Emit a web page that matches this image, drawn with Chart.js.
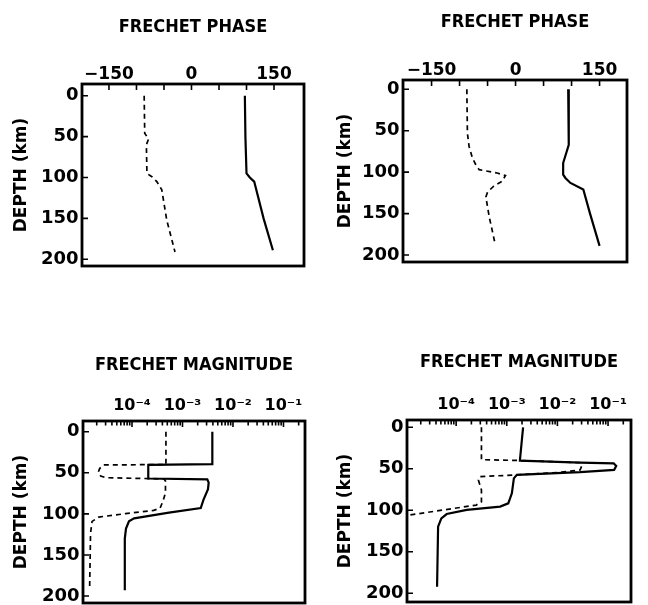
<!DOCTYPE html>
<html>
<head>
<meta charset="utf-8">
<script src="https://cdn.jsdelivr.net/npm/chart.js@4.4.1/dist/chart.umd.min.js"></script>
<style>
html,body{margin:0;padding:0;background:#fff;overflow:hidden;width:648px;height:605px}
canvas{position:absolute}
</style>
</head>
<body>
<canvas id="c1" width="324" height="300" style="left:0;top:0"></canvas>
<canvas id="c2" width="324" height="300" style="left:324px;top:0"></canvas>
<canvas id="c3" width="324" height="305" style="left:0;top:300px"></canvas>
<canvas id="c4" width="324" height="305" style="left:324px;top:300px"></canvas>
<script>
// ---------- axis ticks / labels ----------
const depthTicks = [0, 50, 100, 150, 200];
const phaseTicks = [-150, -100, -50, 0, 50, 100, 150];
const phaseTickLabels = ['−150', '', '', '0', '', '', '150'];
const magDecades = [1e-5, 1e-4, 1e-3, 1e-2, 1e-1];
const magDecadeLabels = ['', '10⁻⁴', '10⁻³', '10⁻²', '10⁻¹'];
const magMultipliers = [1, 2, 3, 4, 5, 6, 7, 8, 9];

// ---------- panel A: Frechet phase (top left) ----------
const phaseA_solidDepth = [0, 50, 95, 100, 105, 150, 189];
const phaseA_solidValue = [97, 98, 100, 106, 114, 131, 148];
const phaseA_dashDepth  = [0, 46, 53, 60, 95, 99, 105, 115, 152, 191];
const phaseA_dashValue  = [-86, -85, -78, -82, -81, -72, -63, -54, -45, -30];

// ---------- panel B: Frechet phase (top right) ----------
const phaseB_solidDepth = [0, 53, 67, 89, 103, 107, 113, 121, 150, 189];
const phaseB_solidValue = [94, 95, 95, 85, 85, 89, 98, 121, 133, 150];
const phaseB_dashDepth  = [0, 53, 69, 83, 91, 97, 101, 104, 111, 117, 124, 130, 154, 188];
const phaseB_dashValue  = [-87, -86, -83, -77, -71, -65, -33, -18, -24, -39, -50, -53, -47, -36];

// ---------- panel C: Frechet magnitude (bottom left) ----------
const magC_solidDepth = [0, 39.5, 40.5, 57, 58, 62, 70, 83, 93, 98.6, 105.5, 109, 118, 130, 193];
const magC_solidValue = [3.9e-3, 3.9e-3, 2.1e-4, 2.1e-4, 3.1e-3, 3.3e-3, 3.2e-3, 2.6e-3, 2.3e-3, 5.4e-4, 1.1e-4, 8.7e-5, 7.6e-5, 7.2e-5, 7.2e-5];
const magC_dashDepth  = [0, 40, 40.5, 44.6, 49.5, 54, 56, 57.5, 60, 74.5, 84.7, 93, 95.8, 99.8, 103.9, 109.2, 123.4, 188];
const magC_dashValue  = [4.7e-4, 4.7e-4, 2.75e-5, 2.3e-5, 2.14e-5, 2.4e-5, 3.0e-5, 4.3e-4, 4.6e-4, 4.6e-4, 4.1e-4, 3.6e-4, 2.7e-4, 7.4e-5, 2.2e-5, 1.62e-5, 1.51e-5, 1.45e-5];

// ---------- panel D: Frechet magnitude (bottom right) ----------
const magD_solidDepth = [0, 39.4, 40.2, 42.6, 43.4, 46.5, 51.3, 54.1, 57.3, 61.5, 79.5, 91.6, 95.6, 99.6, 104.5, 109.7, 119.7, 192];
const magD_solidValue = [2.1e-3, 1.82e-3, 1.82e-3, 2.8e-2, 0.129, 0.145, 0.132, 2.8e-2, 1.58e-3, 1.38e-3, 1.26e-3, 1.07e-3, 7.4e-4, 1.62e-4, 6.5e-5, 5.1e-5, 4.4e-5, 4.2e-5];
const magD_dashDepth  = [0, 39, 40, 42.6, 47, 51.5, 54.5, 57.3, 59.5, 63.5, 75.6, 89.7, 93.7, 105.7, 107];
const magD_dashValue  = [3.16e-4, 3.16e-4, 1.82e-3, 2.8e-2, 3.0e-2, 2.8e-2, 1.0e-2, 1.58e-3, 2.95e-4, 2.75e-4, 3.16e-4, 3.16e-4, 2.5e-4, 1.2e-5, 1.0e-5];

// ---------- rendering ----------
Chart.defaults.font.family = "'DejaVu Sans', sans-serif";
Chart.defaults.color = '#000';
const titleFamily = "'DejaVu Sans Condensed', 'Liberation Sans', sans-serif";

function isDecade(v) {
  const l = Math.log10(v);
  return Math.abs(l - Math.round(l)) < 1e-6;
}

const framePlugin = {
  id: 'frame',
  afterDraw(chart, args, opts) {
    const {ctx, chartArea: a, scales: {x, y}} = chart;
    ctx.save();
    ctx.strokeStyle = '#000';
    ctx.lineWidth = 1.6;
    ctx.beginPath();
    x.ticks.forEach(t => {
      const px = x.getPixelForValue(t.value);
      if (px <= a.left + 2 || px >= a.right - 2) return;
      const len = opts.log ? (isDecade(t.value) ? 6 : 4.5) : 6;
      ctx.moveTo(px, a.top);
      ctx.lineTo(px, a.top + len);
    });
    y.ticks.forEach(t => {
      const py = y.getPixelForValue(t.value);
      ctx.moveTo(a.left, py);
      ctx.lineTo(a.left + 6, py);
    });
    ctx.stroke();
    ctx.lineWidth = 2.8;
    ctx.strokeRect(a.left, a.top, a.right - a.left, a.bottom - a.top);
    ctx.restore();
  }
};

function pts(xs, ds) { return xs.map((v, i) => ({x: v, y: ds[i]})); }

function makeChart(id, p) {
  const canvas = document.getElementById(id);
  const xScale = p.log ? {
    type: 'logarithmic',
    position: 'top',
    min: p.xMin, max: p.xMax,
    bounds: 'data',
    afterBuildTicks(s) {
      const list = [];
      magDecades.forEach(dec => magMultipliers.forEach(m => {
        const v = dec * m;
        if (v > s.min && v < s.max) list.push({value: v, major: m === 1});
      }));
      s.ticks = list;
    },
    ticks: {
      autoSkip: false, maxRotation: 0, minRotation: 0, padding: p.xTickPad,
      font: {size: 16, weight: 'bold'},
      callback(v) {
        const i = magDecades.findIndex(d => Math.abs(Math.log10(d) - Math.log10(v)) < 1e-6);
        return i >= 0 ? magDecadeLabels[i] : '';
      }
    }
  } : {
    type: 'linear',
    position: 'top',
    min: p.xMin, max: p.xMax,
    afterBuildTicks(s) { s.ticks = phaseTicks.map(v => ({value: v})); },
    ticks: {
      autoSkip: false, maxRotation: 0, minRotation: 0, padding: p.xTickPad,
      font: {size: 17, weight: 'bold'},
      callback(v) {
        const i = phaseTicks.indexOf(v);
        return i >= 0 ? phaseTickLabels[i] : '';
      }
    }
  };
  Object.assign(xScale, {
    grid: {display: false, drawTicks: false, tickLength: 0},
    border: {display: false},
    title: {display: true, text: p.title, font: {family: titleFamily, size: 18, weight: 'bold'}, padding: {top: p.titlePad, bottom: 0}},
    afterFit(s) { s.height = p.box.t; s.paddingLeft = 0; s.paddingRight = 0; }
  });

  return new Chart(canvas, {
    type: 'line',
    data: {
      datasets: [
        {data: pts(p.solidX, p.solidD), borderColor: '#000', borderWidth: 2.2, pointRadius: 0, tension: 0, fill: false},
        {data: pts(p.dashX, p.dashD), borderColor: '#000', borderWidth: 1.7, borderDash: [5, 4], pointRadius: 0, tension: 0, fill: false}
      ]
    },
    options: {
      responsive: false,
      animation: false,
      events: [],
      devicePixelRatio: 1,
      layout: {padding: {left: 0, top: 0, right: canvas.width - p.box.r, bottom: canvas.height - p.box.b}},
      plugins: {legend: {display: false}, tooltip: {enabled: false}, title: {display: false}, frame: {log: !!p.log}},
      scales: {
        x: xScale,
        y: {
          type: 'linear',
          reverse: true,
          min: p.yMin, max: p.yMax,
          afterBuildTicks(s) { s.ticks = depthTicks.map(v => ({value: v})); },
          grid: {display: false, drawTicks: false, tickLength: 0},
          border: {display: false},
          ticks: {autoSkip: false, padding: 3.5, font: {size: 18, weight: 'bold'}, callback: v => String(v)},
          title: {display: true, text: 'DEPTH (km)', font: {size: 17, weight: 'bold'}, padding: {top: 11.5, bottom: 0}},
          afterFit(s) { s.width = p.box.l; s.paddingTop = 0; s.paddingBottom = 0; }
        }
      }
    },
    plugins: [framePlugin]
  });
}

makeChart('c1', {
  title: 'FRECHET PHASE', titlePad: 16.7, xTickPad: -1,
  box: {l: 82, t: 84, r: 304, b: 266},
  xMin: -199, xMax: 204.5, yMin: -14.3, yMax: 208.2,
  solidX: phaseA_solidValue, solidD: phaseA_solidDepth,
  dashX: phaseA_dashValue, dashD: phaseA_dashDepth
});
makeChart('c2', {
  title: 'FRECHET PHASE', titlePad: 11.1, xTickPad: -1,
  box: {l: 79, t: 80, r: 303, b: 262},
  xMin: -201, xMax: 199, yMin: -11.2, yMax: 208.4,
  solidX: phaseB_solidValue, solidD: phaseB_solidDepth,
  dashX: phaseB_dashValue, dashD: phaseB_dashDepth
});
makeChart('c3', {
  title: 'FRECHET MAGNITUDE', titlePad: 54.6, xTickPad: 6, log: true,
  box: {l: 83, t: 121, r: 305, b: 303},
  xMin: 1.07e-5, xMax: 0.267, yMin: -13, yMax: 208.5,
  solidX: magC_solidValue, solidD: magC_solidDepth,
  dashX: magC_dashValue, dashD: magC_dashDepth
});
makeChart('c4', {
  title: 'FRECHET MAGNITUDE', titlePad: 51.3, xTickPad: 6, log: true,
  box: {l: 83, t: 120, r: 307, b: 302},
  xMin: 1.07e-5, xMax: 0.284, yMin: -8.8, yMax: 210.5,
  solidX: magD_solidValue, solidD: magD_solidDepth,
  dashX: magD_dashValue, dashD: magD_dashDepth
});
</script>
</body>
</html>
